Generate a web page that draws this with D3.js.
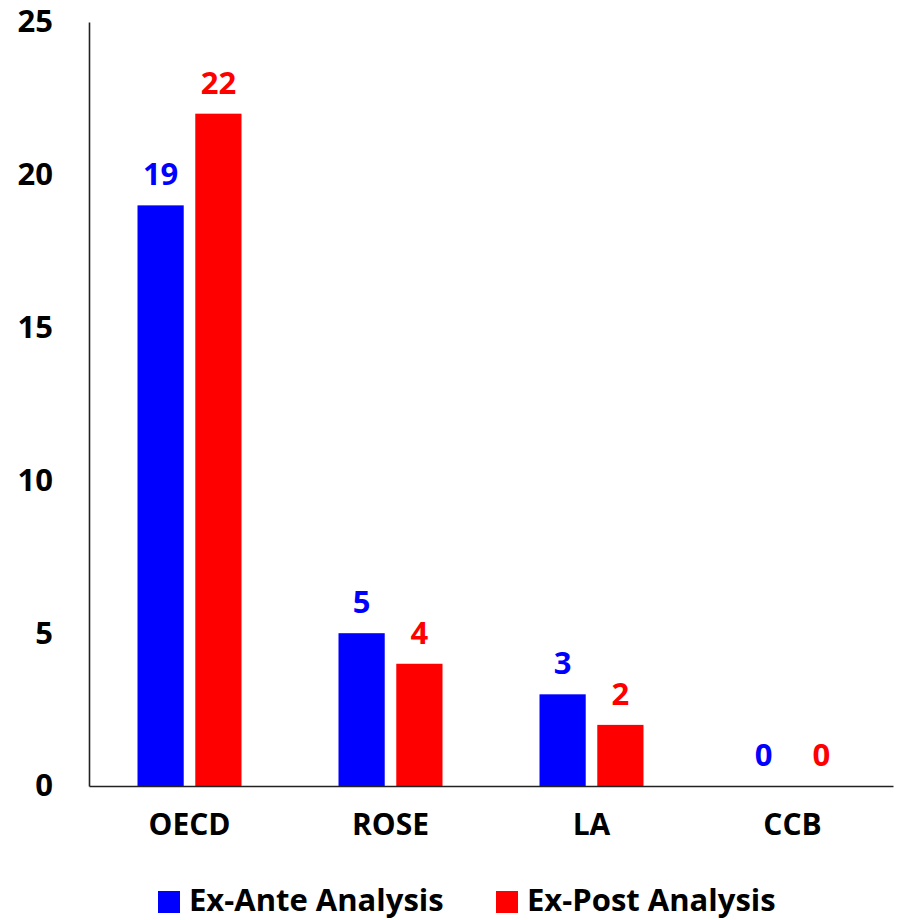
<!DOCTYPE html>
<html>
<head>
<meta charset="utf-8">
<script src="https://cdn.jsdelivr.net/npm/d3@7"></script>
<style>
  html, body { margin: 0; padding: 0; background: #fff; }
  svg { display: block; }
  text { font-family: "Open Sans", "DejaVu Sans", sans-serif; font-weight: 700; }
</style>
</head>
<body>
<div id="chart"></div>
<script>
const categories = ["OECD", "ROSE", "LA", "CCB"];
const seriesNames = ["Ex-Ante Analysis", "Ex-Post Analysis"];
const seriesColors = ["#0000FF", "#FF0000"];
const exAnte = [19, 5, 3, 0];
const exPost = [22, 4, 2, 0];
const yTicks = [0, 5, 10, 15, 20, 25];

(function () {
const W = 897, H = 920;
const mLeft = 89, mRight = 893, mTop = 22, mBottom = 786;

const svg = d3.select("#chart").append("svg").attr("width", W).attr("height", H);

const y = d3.scaleLinear().domain([0, 25]).range([mBottom, mTop]);
const x0 = d3.scaleBand().domain(categories).range([mLeft, mRight]).padding(0);
const groupW = 104;
const x1 = d3.scaleBand().domain([0, 1]).range([0, groupW]).paddingInner(0.2);

// y axis
const yAxis = d3.axisLeft(y).tickValues(yTicks).tickSize(0).tickPadding(36).tickFormat(d3.format("d"));
const gy = svg.append("g").attr("transform", `translate(${mLeft},0)`).call(yAxis);
gy.select(".domain").attr("stroke", "#222").attr("stroke-width", 1.6);
gy.selectAll(".tick text").attr("font-size", 31).attr("fill", "#000")
  .style("font-family", '"Open Sans", sans-serif').style("font-weight", 700);

const series = [exAnte, exPost];
series.forEach((vals, si) => {
  const g = svg.append("g");
  g.selectAll("rect").data(categories).join("rect")
    .attr("x", (c) => x0(c) + (x0.bandwidth() - groupW) / 2 + x1(si))
    .attr("width", x1.bandwidth())
    .attr("y", (c, i) => y(vals[i]))
    .attr("height", (c, i) => y(0) - y(vals[i]))
    .attr("fill", seriesColors[si]);
  g.selectAll("text").data(categories).join("text")
    .attr("x", (c) => x0(c) + (x0.bandwidth() - groupW) / 2 + x1(si) + x1.bandwidth() / 2)
    .attr("y", (c, i) => y(vals[i]) - 20)
    .attr("text-anchor", "middle")
    .attr("font-size", 31)
    .attr("fill", seriesColors[si])
    .text((c, i) => vals[i]);
});

// x axis
const xAxis = d3.axisBottom(x0).tickSize(0).tickPadding(28);
const gx = svg.append("g").attr("transform", `translate(0,${mBottom})`).call(xAxis);
gx.select(".domain").attr("stroke", "#222").attr("stroke-width", 1.6);
gx.selectAll(".tick text").attr("font-size", 30).attr("fill", "#000")
  .style("font-family", '"Open Sans", sans-serif').style("font-weight", 700);

// legend
const legendX = [158, 496];
const lg = svg.append("g");
seriesNames.forEach((name, i) => {
  lg.append("rect").attr("x", legendX[i]).attr("y", 891).attr("width", 22).attr("height", 22).attr("fill", seriesColors[i]);
  lg.append("text").attr("x", legendX[i] + 31).attr("y", 911).attr("font-size", 31).attr("fill", "#000").text(name);
});
})();
</script>
</body>
</html>
